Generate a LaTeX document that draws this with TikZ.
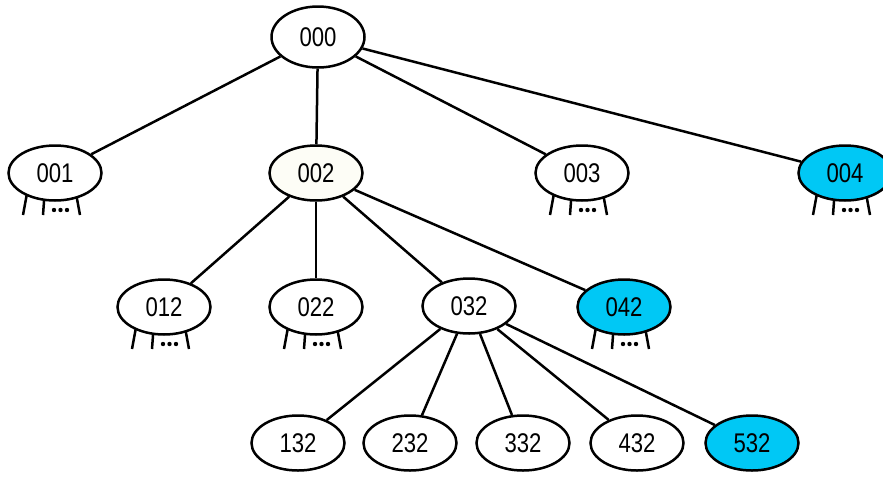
\documentclass[tikz,border=0pt]{standalone}
\usepackage{fontspec}
\usetikzlibrary{shapes.geometric,backgrounds}
\newfontfamily\narrowfont[FakeStretch=0.82]{Liberation Sans}
\definecolor{hilite}{HTML}{00C8F5}
\definecolor{softwhite}{HTML}{FDFDF6}
\tikzset{
  tnode/.style={ellipse, draw, line width=2.5pt, minimum width=93pt, minimum height=55pt,
    inner sep=0pt, fill=white, font={\narrowfont\fontsize{27}{30}\selectfont}},
  rootnode/.style={tnode, minimum width=93pt, minimum height=61pt},
  marked/.style={fill=hilite},
  edge/.style={line width=2.5pt},
  stub/.style={line width=2.5pt},
}
% three short legs and an ellipsis below a node, for subtrees left out
\newcommand\stubs[1]{%
  \draw[stub] ([shift={(-27,15)}]#1.center) -- ([shift={(-32,42)}]#1.center);
  \draw[stub] ([shift={(-10,15)}]#1.center) -- ([shift={(-12,42)}]#1.center);
  \draw[stub] ([shift={(20,15)}]#1.center) -- ([shift={(25,42)}]#1.center);
  \foreach \dx in {-1,5.5,12}
    {\fill ([shift={(\dx,37)}]#1.center) circle (2.2pt);}
}
\begin{document}
\begin{tikzpicture}[x=1pt, y=-1pt]
\useasboundingbox (0,0) rectangle (883,477);
% root
\node[rootnode] (n000) at (318,37) {000};
% first level
\node[tnode] (n001) at (55,173) {001};
\node[tnode, fill=softwhite] (n002) at (316,173) {002};
\node[tnode] (n003) at (582,173) {003};
\node[tnode, marked] (n004) at (845,173) {004};
% second level
\node[tnode] (n012) at (164,307) {012};
\node[tnode] (n022) at (316,307) {022};
\node[tnode] (n032) at (469,306) {032};
\node[tnode, marked] (n042) at (624,307) {042};
% third level
\node[tnode] (n132) at (298,443) {132};
\node[tnode] (n232) at (410,443) {232};
\node[tnode] (n332) at (523,443) {332};
\node[tnode] (n432) at (637,443) {432};
\node[tnode, marked] (n532) at (752,443) {532};
\begin{scope}[on background layer]
% edges
\foreach \c in {n001,n002,n003,n004} {\draw[edge] (n000) -- (\c);}
\foreach \c in {n012,n022,n032,n042} {\draw[edge] (n002) -- (\c);}
\foreach \c in {n132,n232,n332,n432,n532} {\draw[edge] (n032) -- (\c);}
% pruned subtrees
\foreach \n in {n001,n003,n004,n012,n022,n042} {\stubs{\n}}
\end{scope}
\end{tikzpicture}
\end{document}
